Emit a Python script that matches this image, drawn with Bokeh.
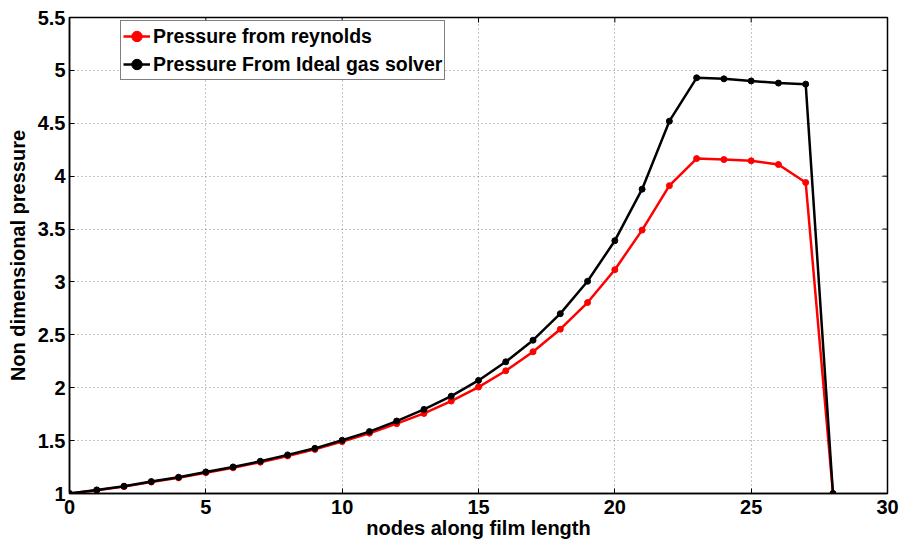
import math
from bokeh.plotting import figure
from bokeh.models import Range1d, FixedTicker, Legend, LegendItem
from bokeh.embed import file_html
from bokeh.resources import INLINE

nodes = list(range(29))
reynolds = [1.0, 1.03, 1.065, 1.108, 1.148, 1.197, 1.243, 1.296, 1.355, 1.417,
            1.49, 1.57, 1.66, 1.757, 1.874, 2.006, 2.16, 2.34, 2.553, 2.805,
            3.116, 3.49, 3.91, 4.166, 4.157, 4.145, 4.11, 3.94, 1.0]
ideal_gas = [1.0, 1.034, 1.069, 1.113, 1.154, 1.204, 1.251, 1.305, 1.365, 1.427,
             1.503, 1.585, 1.685, 1.795, 1.92, 2.069, 2.245, 2.449, 2.70, 3.006,
             3.39, 3.877, 4.52, 4.93, 4.92, 4.90, 4.88, 4.87, 1.0]
x_ticks = [0, 5, 10, 15, 20, 25, 30]
y_ticks = [1, 1.5, 2, 2.5, 3, 3.5, 4, 4.5, 5, 5.5]
y_tick_labels = ["1", "1.5", "2", "2.5", "3", "3.5", "4", "4.5", "5", "5.5"]
x_label = "nodes along film length"
y_label = "Non dimensional pressure"
series_names = ["Pressure from reynolds", "Pressure From Ideal gas solver"]

X_MIN, X_MAX, Y_MIN, Y_MAX = 0, 30, 1, 5.5
FONT = "Liberation Sans"

p = figure(width=905, height=543, output_backend="svg", toolbar_location=None,
           x_range=Range1d(X_MIN, X_MAX), y_range=Range1d(Y_MIN, Y_MAX),
           min_border_left=69, min_border_right=18, min_border_top=17, min_border_bottom=50)
p.background_fill_color = "white"
p.border_fill_color = "white"
p.outline_line_color = "black"
p.outline_line_width = 1.5

for ax in (p.xaxis[0], p.yaxis[0]):
    ax.axis_line_color = "black"
    ax.axis_line_width = 1.5
    ax.major_tick_in = 5
    ax.major_tick_out = 0
    ax.minor_tick_line_color = None
    ax.major_label_text_font = FONT
    ax.major_label_text_font_style = "bold"
    ax.major_label_text_font_size = "20px"
    ax.major_label_text_color = "black"
    ax.axis_label_text_font = FONT
    ax.axis_label_text_font_style = "bold"
    ax.axis_label_text_font_size = "20px"
    ax.axis_label_text_color = "black"

p.xaxis[0].ticker = FixedTicker(ticks=x_ticks)
p.yaxis[0].ticker = FixedTicker(ticks=y_ticks)
p.yaxis[0].major_label_overrides = {t: l for t, l in zip(y_ticks, y_tick_labels)}
p.xaxis[0].axis_label = x_label
p.yaxis[0].axis_label = y_label
p.xaxis[0].major_label_standoff = 6
p.xaxis[0].axis_label_standoff = 0
p.yaxis[0].major_label_standoff = 4
p.yaxis[0].axis_label_standoff = 6

p.xgrid.ticker = FixedTicker(ticks=x_ticks)
p.ygrid.ticker = FixedTicker(ticks=y_ticks)
p.grid.grid_line_color = "#8a8a8a"
p.grid.grid_line_dash = "1 3"
p.grid.grid_line_width = 1

# inward tick marks on the top and right edges of the box (half of each dash is clipped)
p.scatter(x_ticks, [Y_MAX] * len(x_ticks), marker="dash", size=10, angle=math.pi / 2,
          line_color="black", line_width=1)
p.scatter([X_MAX] * len(y_ticks), y_ticks, marker="dash", size=10,
          line_color="black", line_width=1)

r1 = p.line(nodes, reynolds, line_color="#ff0000", line_width=2.5)
c1 = p.scatter(nodes, reynolds, size=6, fill_color="#ff0000", line_color="#ff0000")
r2 = p.line(nodes, ideal_gas, line_color="black", line_width=2.5)
c2 = p.scatter(nodes, ideal_gas, size=6, fill_color="black", line_color="black")

legend = Legend(items=[LegendItem(label=series_names[0], renderers=[r1, c1]),
                       LegendItem(label=series_names[1], renderers=[r2, c2])],
                location=(51, 413))
legend.label_text_font = FONT
legend.label_text_font_style = "bold"
legend.label_text_font_size = "19.5px"
legend.label_text_color = "black"
legend.glyph_width = 27
legend.glyph_height = 26
legend.label_height = 26
legend.label_standoff = 3
legend.padding = 2
legend.spacing = 2
legend.margin = 0
legend.border_line_color = "black"
legend.border_line_width = 1
legend.background_fill_color = "white"
legend.background_fill_alpha = 1
p.add_layout(legend, "center")

open("out.html", "w").write(file_html(p, INLINE))
